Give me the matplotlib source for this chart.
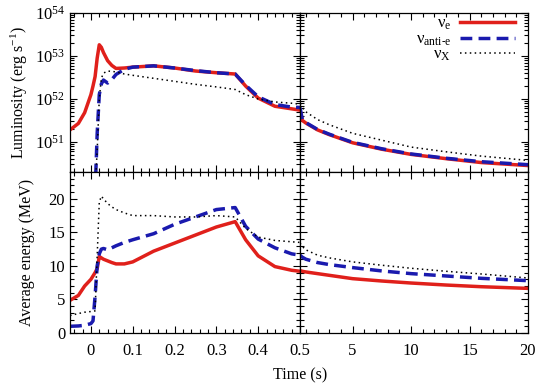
import numpy as np
import matplotlib
matplotlib.use("Agg")
import matplotlib.pyplot as plt
from matplotlib.ticker import MultipleLocator, FixedLocator, LogLocator, LogFormatterMathtext, NullFormatter

plt.rcParams["font.family"] = ["Liberation Serif", "DejaVu Serif"]
plt.rcParams["mathtext.fontset"] = "custom"
plt.rcParams["mathtext.rm"] = "Liberation Serif"
plt.rcParams["mathtext.it"] = "Liberation Serif:italic"
plt.rcParams["font.size"] = 10.5

# --- data ---
# early phase (s)
t_early = [-0.05, -0.03, -0.015, 0.0, 0.005, 0.01, 0.015, 0.02, 0.025, 0.03, 0.04, 0.05,
           0.06, 0.08, 0.10, 0.15, 0.20, 0.25, 0.30, 0.345, 0.37, 0.40, 0.44, 0.48, 0.50]
# log10 luminosity (erg/s)
lum_e_early = [51.28, 51.43, 51.68, 52.1, 52.3, 52.52, 52.95, 53.26, 53.2, 53.08, 52.89, 52.78,
               52.71, 52.72, 52.74, 52.77, 52.72, 52.65, 52.61, 52.58, 52.30, 52.02, 51.83, 51.77, 51.74]
lum_ae_early = [np.nan, np.nan, np.nan, np.nan, np.nan, 49.8, 51.2, 52.1, 52.35, 52.44, 52.37, 52.45,
                52.57, 52.69, 52.74, 52.77, 52.72, 52.66, 52.61, 52.58, 52.32, 52.05, 51.87, 51.81, 51.80]
lum_x_early = [np.nan, np.nan, np.nan, np.nan, np.nan, 49.9, 50.8, 52.0, 52.48, 52.6, 52.65, 52.64,
               52.63, 52.58, 52.55, 52.48, 52.41, 52.34, 52.28, 52.22, 52.10, 52.00, 51.93, 51.90, 51.88]
# average energy (MeV)
en_e_early = [4.87, 5.6, 7.0, 8.0, 8.5, 9.0, 9.6, 11.4, 11.2, 11.0, 10.75, 10.5,
              10.3, 10.3, 10.6, 12.2, 13.4, 14.6, 15.8, 16.6, 13.9, 11.5, 9.9, 9.35, 9.2]
en_ae_early = [1.0, 1.05, 1.15, 1.4, 1.8, 5.5, 10.0, 11.8, 12.5, 12.6, 12.4, 12.7,
               13.0, 13.5, 13.9, 14.8, 16.2, 17.3, 18.4, 18.7, 15.9, 14.0, 12.7, 11.8, 11.6]
en_x_early = [2.6, 2.9, 3.1, 3.2, 3.25, 3.3, 11.5, 19.5, 20.4, 20.0, 19.3, 18.8,
              18.4, 17.9, 17.5, 17.5, 17.3, 17.3, 17.5, 17.3, 15.6, 14.3, 13.8, 13.6, 13.5]

# late phase (s)
t_late = [0.5, 0.7, 1, 2, 3, 5, 7.5, 10, 13, 16, 20]
lum_e_late = [51.74, 51.5, 51.44, 51.28, 51.17, 50.98, 50.83, 50.71, 50.61, 50.52, 50.45]
lum_ae_late = [51.80, 51.52, 51.45, 51.29, 51.18, 50.99, 50.84, 50.72, 50.62, 50.54, 50.47]
lum_x_late = [51.88, 51.8, 51.7, 51.52, 51.4, 51.2, 51.04, 50.88, 50.77, 50.67, 50.57]
en_e_late = [9.3, 9.2, 9.1, 8.85, 8.6, 8.1, 7.75, 7.45, 7.15, 6.9, 6.65]
en_ae_late = [11.6, 11.3, 11.0, 10.5, 10.2, 9.75, 9.25, 8.85, 8.5, 8.15, 7.8]
en_x_late = [13.4, 12.9, 12.4, 11.6, 11.2, 10.6, 10.1, 9.65, 9.2, 8.8, 8.2]

labels = [r"$\mathrm{\nu}_{\mathrm{e}}$", r"$\mathrm{\nu}_{\mathrm{anti\text{-}e}}$", r"$\mathrm{\nu}_{\mathrm{X}}$"]

RED = "#e0201b"
BLUE = "#1a1aae"
styles = [
    dict(color=RED, lw=2.5, linestyle="-"),
    dict(color=BLUE, lw=2.5, linestyle=(0, (3.4, 1.8))),
    dict(color="black", lw=1.1, linestyle=(0, (1, 2.2))),
]

fig = plt.figure(figsize=(5.4, 3.9), dpi=100)
lw_ax, rw_ax = 230 / 540, 228 / 540
x0 = 70 / 540
ax_tl = fig.add_axes([x0, 1 - 172 / 390, lw_ax, 159 / 390])
ax_tr = fig.add_axes([x0 + lw_ax, 1 - 172 / 390, rw_ax, 159 / 390])
ax_bl = fig.add_axes([x0, 1 - 333 / 390, lw_ax, 161 / 390])
ax_br = fig.add_axes([x0 + lw_ax, 1 - 333 / 390, rw_ax, 161 / 390])

early_lum = [lum_e_early, lum_ae_early, lum_x_early]
late_lum = [lum_e_late, lum_ae_late, lum_x_late]
early_en = [en_e_early, en_ae_early, en_x_early]
late_en = [en_e_late, en_ae_late, en_x_late]

for i in range(3):
    ax_tl.plot(t_early, 10 ** np.array(early_lum[i]), **styles[i])
    ax_tr.plot(t_late, 10 ** np.array(late_lum[i]), label=labels[i], **styles[i])
    ax_bl.plot(t_early, early_en[i], **styles[i])
    ax_br.plot(t_late, late_en[i], **styles[i])

for ax in (ax_tl, ax_tr):
    ax.set_yscale("log")
    ax.set_ylim(10 ** 50.3, 1e54)
    ax.yaxis.set_major_locator(LogLocator(base=10, numticks=10))
    ax.yaxis.set_minor_locator(LogLocator(base=10, subs=np.arange(2, 10), numticks=20))
    ax.yaxis.set_minor_formatter(NullFormatter())
ax_tl.yaxis.set_major_formatter(LogFormatterMathtext())

for ax in (ax_bl, ax_br):
    ax.set_ylim(0, 24)
    ax.yaxis.set_major_locator(MultipleLocator(5))
    ax.yaxis.set_minor_locator(MultipleLocator(1))

for ax in (ax_tl, ax_bl):
    ax.set_xlim(-0.05, 0.5)
    ax.xaxis.set_major_locator(FixedLocator([0, 0.1, 0.2, 0.3, 0.4]))
    ax.xaxis.set_minor_locator(MultipleLocator(0.02))
for ax in (ax_tr, ax_br):
    ax.set_xlim(0.5, 20)
    ax.xaxis.set_major_locator(FixedLocator([0.5, 5, 10, 15, 20]))
    ax.xaxis.set_minor_locator(MultipleLocator(1))
    ax.tick_params(axis="y", labelleft=False)

ax_bl.set_xticklabels(["0", "0.1", "0.2", "0.3", "0.4"])
ax_br.set_xticklabels(["0.5", "5", "10", "15", "20"])
for ax in (ax_tl, ax_tr):
    ax.tick_params(axis="x", labelbottom=False)

for ax in (ax_tl, ax_tr, ax_bl, ax_br):
    ax.tick_params(which="both", direction="in", top=True, right=True, width=0.8)
    ax.tick_params(which="major", length=5, labelsize=12)
    ax.tick_params(which="minor", length=2.8)
    ax.tick_params(axis="x", pad=7)
    for s in ax.spines.values():
        s.set_linewidth(0.9)

ax_tl.set_ylabel(r"Luminosity (erg s$^{-1}$)", fontsize=11.5)
ax_tl.yaxis.set_label_coords(-0.176, 0.5)
ax_bl.set_ylabel("Average energy (MeV)", fontsize=11.5)
ax_bl.yaxis.set_label_coords(-0.152, 0.5)
fig.text(300 / 540, 1 - 375 / 390, "Time (s)", ha="center", va="center", fontsize=11.5)

ax_tr.legend(loc="upper right", bbox_to_anchor=(0.985, 1.045), frameon=False, markerfirst=False,
             handlelength=3.3, handletextpad=0.5, labelspacing=-0.05, fontsize=12, borderaxespad=0.2)

fig.savefig("out.png", dpi=100)
